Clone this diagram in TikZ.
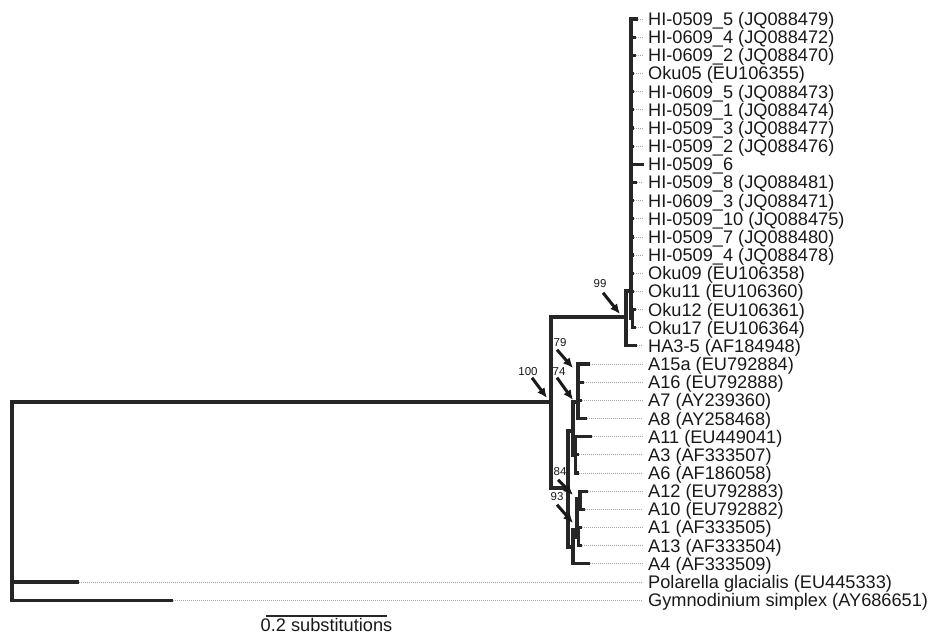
\documentclass[tikz,border=0pt]{standalone}
\usepackage{fontspec}
\setmainfont{Liberation Sans}
\usetikzlibrary{arrows.meta}

\begin{document}
\begin{tikzpicture}[
    x=1pt, y=-1pt,
    branch/.style={line width=3.2pt, draw=black!85, line cap=rect},
    leader/.style={draw=gray!70, line width=0.8pt, dash pattern=on 0.8pt off 1.2pt},
    leaf/.style={anchor=west, inner xsep=5pt, inner ysep=0pt, text height=13pt, text depth=0pt, font=\fontsize{18.2}{18.2}\selectfont, text=black!90},
    bs/.style={inner sep=0.5pt, font=\fontsize{11.5}{11.5}\selectfont, text=black!90},
    bsarr/.style={-{Latex[length=10pt,width=9pt]}, line width=3pt, draw=black!90}
]
\useasboundingbox (0,0) rectangle (931,635);

% leaves: index / tip x / label
\foreach \i/\tx/\lab in {
    0/636/{HI-0509\_5 (JQ088479)},  1/634/{HI-0609\_4 (JQ088472)},
    2/634/{HI-0609\_2 (JQ088470)},  3/632/{Oku05 (EU106355)},
    4/632/{HI-0609\_5 (JQ088473)},  5/632/{HI-0509\_1 (JQ088474)},
    6/632/{HI-0509\_3 (JQ088477)},  7/632/{HI-0509\_2 (JQ088476)},
    8/642/{HI-0509\_6},             9/635/{HI-0509\_8 (JQ088481)},
    10/632/{HI-0609\_3 (JQ088471)}, 11/632/{HI-0509\_10 (JQ088475)},
    12/632/{HI-0509\_7 (JQ088480)}, 13/632/{HI-0509\_4 (JQ088478)},
    14/632/{Oku09 (EU106358)},      15/632/{Oku11 (EU106360)},
    16/634/{Oku12 (EU106361)},      17/634/{Oku17 (EU106364)},
    18/635/{HA3-5 (AF184948)},      19/588/{A15a (EU792884)},
    20/582/{A16 (EU792888)},        21/580/{A7 (AY239360)},
    22/585/{A8 (AY258468)},         23/590/{A11 (EU449041)},
    24/577/{A3 (AF333507)},         25/577/{A6 (AF186058)},
    26/586/{A12 (EU792883)},        27/583/{A10 (EU792882)},
    28/580/{A1 (AF333505)},         29/580/{A13 (AF333504)},
    30/588/{A4 (AF333509)},         31/77/{Polarella glacialis (EU445333)},
    32/171/{Gymnodinium simplex (AY686651)}}{
    \pgfmathsetmacro{\yy}{19+18.16*\i}
    \coordinate (t\i) at (\tx,\yy);
    \node[leaf] (l\i) at (643,\yy) {\lab};
    \draw[leader] (t\i) -- (l\i.west);
}

% internal nodes
\coordinate (root) at (12,402);
\coordinate (ingroup) at (551,402);
\coordinate (hiclade) at (626,317);
\coordinate (hicore) at (631,291);
\coordinate (okupair) at (632.5,318);
\coordinate (aclade) at (568,488);
\coordinate (aupper) at (573,431);
\coordinate (afour) at (578,402);
\coordinate (athree) at (575.5,455);
\coordinate (alower) at (573,547);
\coordinate (amid) at (577,530);
\coordinate (apairA) at (580,499);
\coordinate (apairB) at (578.5,537);

% branches
\draw[branch] (root) |- (ingroup);
\draw[branch] (root) |- (t31);
\draw[branch] (root) |- (t32);
\draw[branch] (ingroup) |- (hiclade);
\draw[branch] (ingroup) |- (aclade);
\draw[branch] (hiclade) |- (hicore);
\draw[branch] (hiclade) |- (t18);
\foreach \i in {0,...,15} \draw[branch] (hicore) |- (t\i);
\draw[branch] (hicore) |- (okupair);
\draw[branch] (okupair) |- (t16);
\draw[branch] (okupair) |- (t17);
\draw[branch] (aclade) |- (aupper);
\draw[branch] (aclade) |- (alower);
\draw[branch] (aupper) |- (afour);
\draw[branch] (aupper) |- (athree);
\foreach \i in {19,...,22} \draw[branch] (afour) |- (t\i);
\foreach \i in {23,24,25} \draw[branch] (athree) |- (t\i);
\draw[branch] (alower) |- (amid);
\draw[branch] (alower) |- (t30);
\draw[branch] (amid) |- (apairA);
\draw[branch] (amid) |- (apairB);
\draw[branch] (apairA) |- (t26);
\draw[branch] (apairA) |- (t27);
\draw[branch] (apairB) |- (t28);
\draw[branch] (apairB) |- (t29);

% bootstrap values
\node[bs] (bs99) at (600,284) {99};
\node[bs] (bs100) at (528,372) {100};
\node[bs] (bs79) at (560,343) {79};
\node[bs] (bs74) at (559,372) {74};
\node[bs] (bs84) at (560,472) {84};
\node[bs] (bs93) at (557,497) {93};
\coordinate (n99) at (620,314);
\coordinate (n100) at (547,398);
\coordinate (n79) at (573,368);
\coordinate (n74) at (573,400);
\coordinate (n84) at (573,495);
\coordinate (n93) at (573,523);
\draw[bsarr] ([xshift=3pt,yshift=-4pt]bs99.south) -- (n99);
\draw[bsarr] ([xshift=4pt,yshift=-1pt]bs100.south) -- (n100);
\draw[bsarr] ([xshift=-3pt,yshift=-2pt]bs79.south) -- (n79);
\draw[bsarr] ([xshift=-2pt,yshift=-1pt]bs74.south) -- (n74);
\draw[bsarr] ([xshift=-2pt,yshift=-3pt]bs84.south) -- (n84);
\draw[bsarr] ([xshift=0pt,yshift=-3pt]bs93.south) -- (n93);

% scale bar
\coordinate (sbl) at (266,616);
\coordinate (sbr) at (387,616);
\draw[line width=1.4pt, black!85] (sbl) -- (sbr);
\node[leaf, anchor=center, inner xsep=0pt] (sblab) at (326.5,625) {0.2 substitutions};
\end{tikzpicture}
\end{document}
